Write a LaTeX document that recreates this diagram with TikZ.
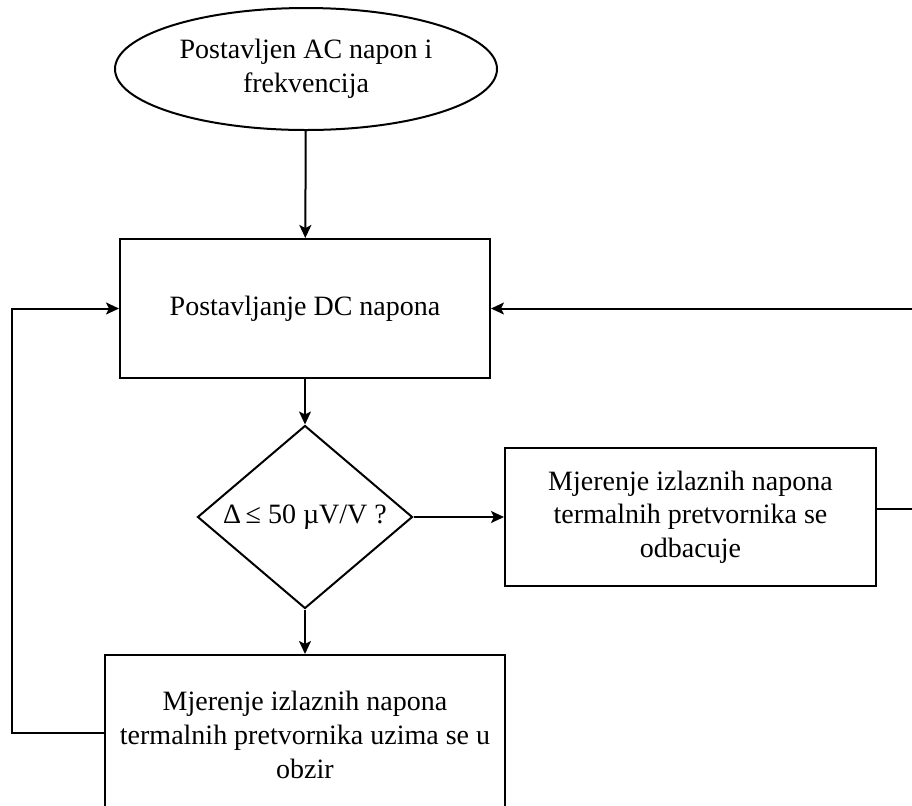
\documentclass[tikz,border=0pt]{standalone}
\usepackage{fontspec}
\setmainfont{Liberation Serif}
\usetikzlibrary{shapes.geometric,arrows.meta}

\begin{document}
\begin{tikzpicture}[x=0.5pt, y=-0.5pt, >={Stealth[length=6.5pt,width=6pt,inset=1.5pt]}, line width=1pt,
    every node/.style={font=\fontsize{14}{16.8}\selectfont, align=center, inner sep=0pt},
    startnode/.style={ellipse, draw, minimum width=191pt, minimum height=61pt},
    box/.style={rectangle, draw, minimum width=185pt, minimum height=69.5pt},
    test/.style={diamond, draw, aspect=1.17, minimum width=107.5pt, minimum height=91.5pt},
    flow/.style={->}]
    \useasboundingbox (0,0) rectangle (912,805);
    \clip (0,0) rectangle (912,805);
    \node[startnode] (start) at (306,69) {Postavljen AC napon i\\frekvencija};
    \node[box] (dc) at (305,308.5) {Postavljanje DC napona};
    \node[test] (cond) at (305,517) {Δ\,≤ 50 µV/V ?};
    \node[box, minimum width=185.5pt, minimum height=69pt] (reject) at (690.5,517)
        {Mjerenje izlaznih napona\\termalnih pretvornika se\\odbacuje};
    \node[box, minimum width=200pt, minimum height=80pt] (accept) at (305,735)
        {Mjerenje izlaznih napona\\termalnih pretvornika uzima se u\\obzir};
    \coordinate (leftbend) at (12,733);
    \coordinate (rightbend) at (935,509);
    \draw[flow] (start) -- (dc);
    \draw[flow] (dc) -- (cond);
    \draw[flow] (cond) -- (reject);
    \draw[flow] (cond) -- (accept);
    \draw[flow] (accept.west |- leftbend) -- (leftbend) |- (dc.west);
    \draw[flow] (reject.east |- rightbend) -- (rightbend) |- (dc.east);
\end{tikzpicture}
\end{document}
